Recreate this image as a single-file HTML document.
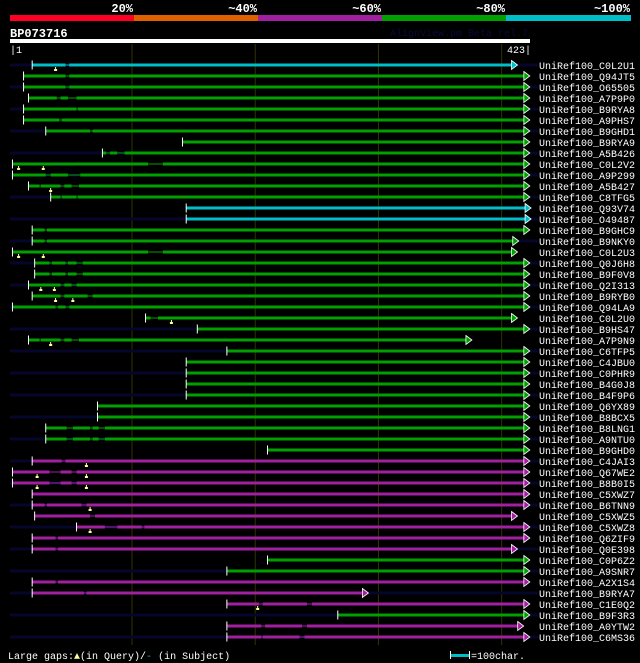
<!DOCTYPE html>
<html><head><meta charset="utf-8">
<style>
html,body{margin:0;padding:0;background:#000;}
svg{display:block;font-family:"Liberation Mono",monospace;}
</style></head>
<body>
<svg id="c" width="640" height="663" viewBox="0 0 640 663" xmlns="http://www.w3.org/2000/svg">
<rect width="640" height="663" fill="#000"/>
</svg>
<script>
const names=["C0L2U1","Q94JT5","O65505","A7P9P0","B9RYA8","A9PHS7","B9GHD1","B9RYA9","A5B426","C0L2V2","A9P299","A5B427","C8TFG5","Q93V74","O49487","B9GHC9","B9NKY0","C0L2U3","Q0J6H8","B9F0V8","Q2I313","B9RYB0","Q94LA9","C0L2U0","B9HS47","A7P9N9","C6TFP5","C4JBU0","C0PHR9","B4G0J8","B4F9P6","Q6YX89","B8BCX5","B8LNG1","A9NTU0","B9GHD0","C4JAI3","Q67WE2","B8B0I5","C5XWZ7","B6TNN9","C5XWZ5","C5XWZ8","Q6ZIF9","Q0E398","C0P6Z2","A9SNR7","A2X1S4","B9RYA7","C1E0Q2","B9F3R3","A0YTW2","C6MS36"];
const starts=[19,12,12,16,12,12,30,141,76,3,3,16,34,144,144,19,19,3,21,21,16,19,3,111,153,16,177,144,144,144,144,72,72,30,30,210,19,3,3,19,19,21,55,19,19,210,177,19,19,177,267,177,177];
const ends=[408,418,418,418,418,418,418,418,418,418,418,418,418,419,419,418,409,408,418,418,418,418,418,408,418,371,418,418,418,418,418,418,418,418,418,418,418,418,418,418,418,408,418,418,408,418,418,418,287,418,418,413,418];
const identity=["c","g","g","g","g","g","g","g","g","g","g","g","g","c","c","g","g","g","g","g","g","g","g","g","g","g","g","g","g","g","g","g","g","g","g","g","m","m","m","m","m","m","m","m","m","g","g","m","m","m","g","m","m"];
const subjectGaps=[[[46,49]],[[46,49]],[[46,49]],[[39,42],[48,55]],[[55,56]],[[41,43]],[[66,68]],[],[[79,82],[88,94]],[[113,125]],[[30,34],[48,58]],[[25,26],[42,45],[51,57]],[[42,43],[55,56]],[],[],[[29,31]],[[29,31]],[[113,125]],[[33,35],[46,48],[55,60]],[[33,35],[46,48],[55,60]],[[42,45],[51,55]],[[42,45],[64,68]],[[38,40],[46,49]],[[115,121]],[],[[25,26],[42,45],[51,57]],[],[],[],[],[],[],[],[[47,52],[66,68],[73,78]],[[47,52],[66,68],[73,78]],[],[[43,46]],[[33,42],[51,55]],[[33,42],[51,55]],[],[[29,31],[59,63]],[[66,70]],[[78,88],[108,110]],[[38,40]],[[38,40]],[],[],[[38,40]],[[61,63]],[[203,206],[242,246]],[],[[205,208],[238,242]],[[205,206],[236,240]]];
const queryGaps=[[38],[],[],[],[],[],[],[],[],[8,28],[],[34],[],[],[],[],[],[8,28],[],[],[26,37],[38,52],[],[132],[],[34],[],[],[],[],[],[],[],[],[],[],[63],[23,63],[23,63],[],[66],[],[66],[],[],[],[],[],[],[202],[],[],[]];
const gridTicks=[100,200,300,400];
const headerLabels=["20%","~40%","~60%","~80%","~100%"];
const QLEN=423;

const svg=document.getElementById('c');
const NS="http://www.w3.org/2000/svg";
const X=r=>10+(r-1)*520/(QLEN-1);
const rowY=i=>65+i*11;
const COL={c:"#00bec8",g:"#00a000",m:"#a020a0"};
function el(t,a,p){const e=document.createElementNS(NS,t);for(const k in a)e.setAttribute(k,a[k]);(p||svg).appendChild(e);return e;}

// header
const hdrCols=["#ff0022","#e06000","#a020a0","#00a000","#00bec8"];
const hdrX=[10,134,258,382,506,631];
for(let i=0;i<5;i++){
  const r=el('rect',{x:hdrX[i],y:15,width:hdrX[i+1]-hdrX[i],height:6,fill:hdrCols[i]});
  
  
  const t=el('text',{x:hdrX[i+1]-1,y:12,'text-anchor':'end',fill:'#fff','font-size':'12','font-weight':'bold'});
  t.textContent=headerLabels[i];
  
  
}
let t=el('text',{x:10,y:37,fill:'#fff','font-size':'12','font-weight':'bold'});t.textContent="BP073716";

t=el('text',{x:528,y:36,'text-anchor':'end',fill:'#0a0a3a','font-size':'10'});t.textContent="AlignView.pm Beta rel.7";

let q=el('rect',{x:10,y:39,width:520,height:4,fill:'#fff'});

t=el('text',{x:10,y:53,fill:'#fff','font-size':'10'});t.textContent="|1";

t=el('text',{x:531,y:53,'text-anchor':'end',fill:'#fff','font-size':'10'});t.textContent=QLEN+"|";


// grid
gridTicks.forEach(v=>{
  const g=el('line',{x1:X(v),x2:X(v),y1:44,y2:645,stroke:'#333300','stroke-width':1});
  
  
});

// rows
names.forEach((n,i)=>{
  const y=rowY(i);
  const g=el('g',{});
  
  
  if(i%2===0){const b=el('rect',{x:10,y:y-1.5,width:528,height:3,fill:'#06062c'},g);
    }
  const c=COL[identity[i]];
  const s=X(starts[i]), e=X(ends[i]);
  // segments split by gaps
  let cur=s;
  subjectGaps[i].forEach(gp=>{
    const a=X(gp[0]),b=X(gp[1]);
    el('rect',{x:cur,y:y-1.5,width:Math.max(0,a-cur),height:3,fill:c},g);
    el('rect',{x:a,y:y-0.5,width:b-a,height:1,fill:c},g);
    cur=b;
  });
  const bar=el('rect',{x:cur,y:y-1.5,width:e-cur,height:3,fill:c},g);
  
  
  el('rect',{x:s-0.5,y:y-4.5,width:1,height:9,fill:'#fff'},g);
  const tri=el('polygon',{points:`${e},${y-4.5} ${e+6},${y} ${e},${y+4.5}`,fill:c,stroke:'#fff','stroke-width':0.8},g);
  
  
  queryGaps[i].forEach(r=>{
    const xx=X(r);
    el('rect',{x:xx-0.5,y:y+2,width:1,height:3,fill:'#ffff99'},g);
    const m=el('rect',{x:xx-1.5,y:y+4,width:3,height:2,fill:'#ffff99'},g);
    
    
  });
  const lb=el('text',{x:539,y:y+4,fill:'#fff','font-size':'10'},g);
  lb.textContent="UniRef100_"+n;
  
  
});

// footer
t=el('text',{x:8,y:659,fill:'#fff','font-size':'10'});
t.innerHTML='Large gaps:<tspan fill="#ffff99">▲</tspan>(in Query)/<tspan fill="#00bec8">-</tspan> (in Subject)';

let lg=el('rect',{x:451,y:654,width:18,height:3,fill:'#00bec8'});

el('rect',{x:450,y:651,width:1,height:8,fill:'#fff'});
el('rect',{x:469,y:651,width:1,height:8,fill:'#fff'});
t=el('text',{x:471,y:659,fill:'#fff','font-size':'10'});t.textContent="=100char.";

</script>
</body></html>
